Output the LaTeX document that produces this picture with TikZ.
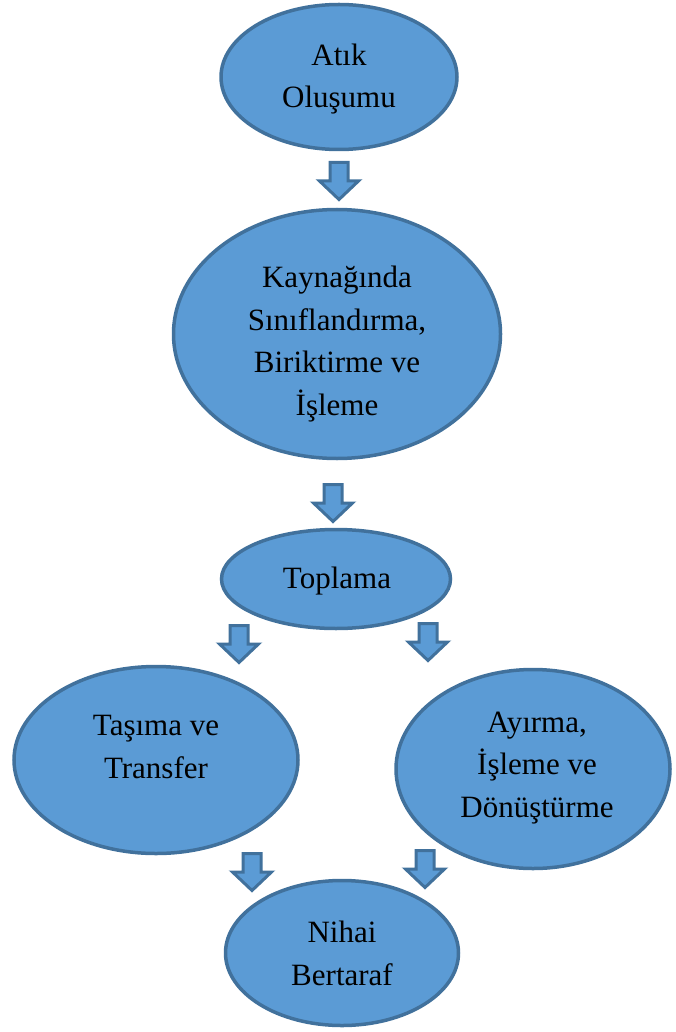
\documentclass[tikz,border=0pt]{standalone}
\usepackage{fontspec}
\setmainfont{Liberation Serif}
\usetikzlibrary{shapes.geometric}
\definecolor{bubblefill}{HTML}{5B9BD5}
\definecolor{bubbleline}{HTML}{41719C}
\tikzset{
  bubble/.style={ellipse, draw=bubbleline, fill=bubblefill, line width=3.5pt, inner sep=0pt},
  caption/.style={align=center, inner sep=0pt, anchor=base,
    font=\fontsize{31}{42.5}\selectfont},
  blockarrow/.style={draw=bubbleline, fill=bubblefill, line width=3pt, line join=miter},
  pics/downblk/.style={code={
    \draw[blockarrow] (-9,1.5) -- (9,1.5) -- (9,20) -- (19.5,20) -- (0,38.5)
      -- (-19.5,20) -- (-9,20) -- cycle;
    \coordinate (-tip) at (0,38.5);
  }}
}
\begin{document}
\begin{tikzpicture}[x=1pt, y=-1pt]
\useasboundingbox (0,0) rectangle (675,1032);

% stages of the waste management chain
\node[bubble, minimum width=236pt, minimum height=145pt] (gen) at (339,77) {};
\node[bubble, minimum width=327pt, minimum height=249pt] (src) at (337,334) {};
\node[bubble, minimum width=229pt, minimum height=99pt]  (col) at (336,579) {};
\node[bubble, minimum width=284pt, minimum height=187pt] (tra) at (156,760) {};
\node[bubble, minimum width=274pt, minimum height=199pt] (sep) at (533,769) {};
\node[bubble, minimum width=233pt, minimum height=145pt] (dis) at (342,953) {};

% stage names, placed by the baseline of their last line
\node[caption] (genT) at (339,108) {Atık\\Oluşumu};
\node[caption] (srcT) at (337,415) {Kaynağında\\Sınıflandırma,\\Biriktirme ve\\İşleme};
\node[caption] (colT) at (337,588) {Toplama};
\node[caption] (traT) at (156,778) {Taşıma ve\\Transfer};
\node[caption] (sepT) at (537,817) {Ayırma,\\İşleme ve\\Dönüştürme};
\node[caption] (disT) at (342,985) {Nihai\\Bertaraf};

% block arrows between the stages
\pic (a1)  at (339,161) {downblk};
\pic (a2)  at (333,483) {downblk};
\pic (a3l) at (239,624) {downblk};
\pic (a3r) at (428,622) {downblk};
\pic (a4l) at (252,852) {downblk};
\pic (a4r) at (425,849) {downblk};
\end{tikzpicture}
\end{document}
